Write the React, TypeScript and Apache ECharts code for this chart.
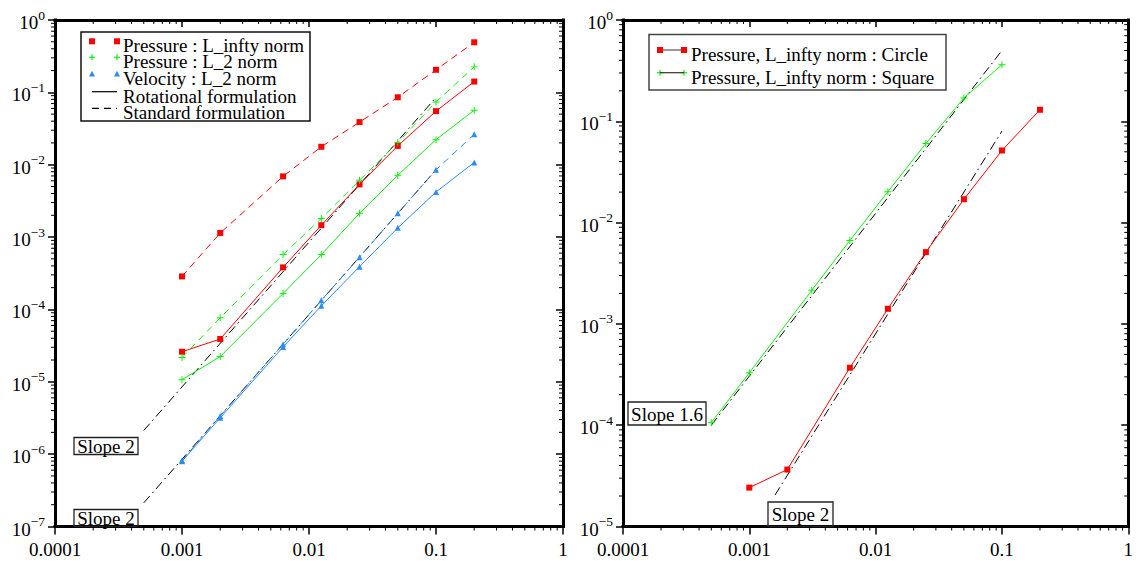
import React, { useEffect, useRef } from "react";
import * as echarts from "echarts";

const FONT = '"Liberation Serif", "Times New Roman", "DejaVu Serif", serif';

// ---------- tick labels ----------
const xTickLabels = ["0.0001", "0.001", "0.01", "0.1", "1"]; // 1e-4 .. 1

// ---------- left panel data ----------
const hLeft = [0.001, 0.002, 0.00625, 0.0125, 0.025, 0.05, 0.1, 0.2];
const pInfStd = [2.86e-4, 1.14e-3, 6.9e-3, 1.77e-2, 3.88e-2, 8.55e-2, 0.205, 0.492];
const pInfRot = [2.6e-5, 3.9e-5, 3.81e-4, 1.46e-3, 5.35e-3, 1.82e-2, 5.5e-2, 0.141];
const p2Std = [2.16e-5, 7.67e-5, 5.73e-4, 1.81e-3, 6.08e-3, 2.02e-2, 7.38e-2, 0.225];
const p2Rot = [1.07e-5, 2.23e-5, 1.66e-4, 5.73e-4, 2.13e-3, 7.15e-3, 2.22e-2, 5.67e-2];
const vStd = [8.15e-7, 3.36e-6, 3.3e-5, 1.34e-4, 5.26e-4, 2.13e-3, 8.5e-3, 2.63e-2];
const vRot = [7.98e-7, 3.18e-6, 3.03e-5, 1.12e-4, 3.9e-4, 1.34e-3, 4.2e-3, 1.076e-2];
const slopeLeftX = [5e-4, 0.1];
const slopeLeftAY = [2.125e-6, 0.085];
const slopeLeftBY = [2.125e-7, 0.0085];

// ---------- right panel data ----------
const hSquare = [5e-4, 0.001, 0.003125, 0.00625, 0.0125, 0.025, 0.05, 0.1];
const pSquare = [1.06e-4, 3.29e-4, 2.15e-3, 6.65e-3, 0.0202, 0.0604, 0.17, 0.361];
const hCircle = [0.001, 0.002, 0.00625, 0.0125, 0.025, 0.05, 0.1, 0.2];
const pCircle = [2.42e-5, 3.65e-5, 3.69e-4, 1.41e-3, 5.11e-3, 0.017, 0.0515, 0.13];
const slope16X = [5e-4, 0.1];
const slope16Y = [1.0e-4, 0.5];
const slope2X = [0.0016, 0.1];
const slope2Y = [2.05e-5, 0.08];

const RED = "#ff0000";
const GREEN = "#10ee10";
const BLUE = "#2b8cf5";
const PLUS = "path://M-1,-0.14H1V0.14H-1Z M-0.14,-1H0.14V1H-0.14Z";

const pairs = (xs: number[], ys: number[]) => xs.map((x, i) => [x, ys[i]]);

function minorValues(fromExp: number, toExp: number) {
  const out: number[] = [];
  for (let e = fromExp; e < toExp; e++) for (let m = 2; m <= 9; m++) out.push(m * Math.pow(10, e));
  return out;
}

function minorData(xFrom: number, xTo: number, yFrom: number, yTo: number, xRef: number, yRef: number) {
  const d: number[][] = [];
  minorValues(xFrom, xTo).forEach((v) => {
    d.push([v, yRef, 0]);
    d.push([v, yRef, 1]);
  });
  minorValues(yFrom, yTo).forEach((v) => {
    d.push([xRef, v, 2]);
    d.push([xRef, v, 3]);
  });
  return d;
}

const renderMinor = (params: any, api: any) => {
  const side = api.value(2);
  const cs = params.coordSys;
  const p = api.coord([api.value(0), api.value(1)]);
  const L = 4;
  let shape: any;
  if (side === 0) shape = { x1: p[0], y1: cs.y + cs.height, x2: p[0], y2: cs.y + cs.height + L };
  else if (side === 1) shape = { x1: p[0], y1: cs.y, x2: p[0], y2: cs.y + L };
  else if (side === 2) shape = { x1: cs.x, y1: p[1], x2: cs.x - L, y2: p[1] };
  else shape = { x1: cs.x + cs.width, y1: p[1], x2: cs.x + cs.width - L, y2: p[1] };
  return { type: "line", shape, style: { stroke: "#000", lineWidth: 1 } };
};

const xLabelFmt = (v: number) => {
  const e = Math.round(Math.log10(v));
  return xTickLabels[e + 4] ?? "";
};
const yLabelFmt = (v: number) => {
  const e = Math.round(Math.log10(v));
  return `{b|10}{s|${e === 0 ? "0" : "\u2212" + -e}}`;
};

const axisLineStyle = { show: true, onZero: false, lineStyle: { color: "#000", width: 3, cap: "square" } };

function xAxes(grid: number) {
  return [
    {
      gridIndex: grid, type: "log", min: 1e-4, max: 1, splitNumber: 4, position: "bottom",
      axisLine: axisLineStyle,
      axisTick: { show: true, inside: false, length: 8, lineStyle: { color: "#000", width: 1.5 } },
      axisLabel: { show: true, formatter: xLabelFmt, fontFamily: FONT, fontSize: 19, color: "#000", margin: 13, showMinLabel: true, showMaxLabel: true },
      splitLine: { show: false }, minorTick: { show: false },
    },
    {
      gridIndex: grid, type: "log", min: 1e-4, max: 1, splitNumber: 4, position: "top",
      axisLine: axisLineStyle,
      axisTick: { show: true, inside: true, length: 7, lineStyle: { color: "#000", width: 1.5 } },
      axisLabel: { show: false }, splitLine: { show: false },
    },
  ];
}

function yAxes(grid: number, minExp: number) {
  const span = -minExp;
  return [
    {
      gridIndex: grid, type: "log", min: Math.pow(10, minExp), max: 1, splitNumber: span, position: "left",
      axisLine: axisLineStyle,
      axisTick: { show: true, inside: false, length: 7, lineStyle: { color: "#000", width: 1.5 } },
      axisLabel: {
        show: true, formatter: yLabelFmt, margin: 10, showMinLabel: true, showMaxLabel: true,
        rich: {
          b: { fontFamily: FONT, fontSize: 19, color: "#000", lineHeight: 24, verticalAlign: "bottom" },
          s: { fontFamily: FONT, fontSize: 13.5, color: "#000", lineHeight: 12, verticalAlign: "top" },
        },
      },
      splitLine: { show: false }, minorTick: { show: false },
    },
    {
      gridIndex: grid, type: "log", min: Math.pow(10, minExp), max: 1, splitNumber: span, position: "right",
      axisLine: axisLineStyle,
      axisTick: { show: true, inside: true, length: 7, lineStyle: { color: "#000", width: 1.5 } },
      axisLabel: { show: false }, splitLine: { show: false },
    },
  ];
}

function lineSeries(name: string, data: number[][], color: string, dashed: boolean, symbol: string, size: number, xi: number, yi: number) {
  return {
    name, type: "line", xAxisIndex: xi, yAxisIndex: yi, data,
    symbol, symbolSize: size, showAllSymbol: true, symbolKeepAspect: true,
    itemStyle: { color },
    lineStyle: { color, width: 1, type: dashed ? [7, 5] : "solid" },
    z: 3,
  };
}

function slopeSeries(name: string, xs: number[], ys: number[], xi: number, yi: number) {
  return {
    name, type: "line", xAxisIndex: xi, yAxisIndex: yi, data: pairs(xs, ys),
    symbol: "none", lineStyle: { color: "#000", width: 1, type: [9, 4, 1.5, 4] }, z: 2,
  };
}

const txt = (text: string, x: number, y: number, align = "left") => ({
  type: "text",
  style: {
    text, x, y, font: `19px ${FONT}`, fill: "#000", lineHeight: 15,
    align, verticalAlign: "middle", textAlign: align, textVerticalAlign: "middle",
  },
  z: 10,
});
const sq = (cx: number, cy: number, color: string) => ({
  type: "rect", shape: { x: cx - 3, y: cy - 3, width: 6, height: 6 }, style: { fill: color }, z: 10,
});
const plus = (cx: number, cy: number, color: string) => ({
  type: "group", z: 10,
  children: [
    { type: "line", shape: { x1: cx - 3, y1: cy, x2: cx + 3, y2: cy }, style: { stroke: color, lineWidth: 1.2 } },
    { type: "line", shape: { x1: cx, y1: cy - 3, x2: cx, y2: cy + 3 }, style: { stroke: color, lineWidth: 1.2 } },
  ],
});
const tri = (cx: number, cy: number, color: string) => ({
  type: "polygon", shape: { points: [[cx, cy - 3.2], [cx + 3, cy + 2.4], [cx - 3, cy + 2.4]] }, style: { fill: color }, z: 10,
});
const seg = (x1: number, x2: number, y: number, color: string, dash?: number[]) => ({
  type: "line", shape: { x1, y1: y, x2, y2: y }, style: { stroke: color, lineWidth: 1.2, lineDash: dash }, z: 10,
});
const box = (x: number, y: number, w: number, h: number, stroke = "#222", lw = 1.3) => ({
  type: "rect", shape: { x, y, width: w, height: h }, style: { fill: "none", stroke, lineWidth: lw }, z: 9,
});

export default function App() {
  const ref = useRef<HTMLDivElement>(null);
  useEffect(() => {
    if (!ref.current) return;
    const chart = echarts.init(ref.current, undefined, { renderer: "svg" });

    const leftLegendRows = [41.3, 57.3, 74, 91.7, 108.3];
    const mx1 = 92, mx2 = 117, tx = 123;
    const graphic: any[] = [
      box(81, 32, 229, 89, "#111", 1.5),
      sq(mx1, leftLegendRows[0], RED), sq(mx2, leftLegendRows[0], RED),
      txt("Pressure : L_infty norm", tx, leftLegendRows[0] + 4.5),
      plus(mx1, leftLegendRows[1], GREEN), plus(mx2, leftLegendRows[1], GREEN),
      txt("Pressure : L_2 norm", tx, leftLegendRows[1] + 4.5),
      tri(mx1, leftLegendRows[2], BLUE), tri(mx2, leftLegendRows[2], BLUE),
      txt("Velocity : L_2 norm", tx, leftLegendRows[2] + 4.5),
      seg(mx1, mx2, leftLegendRows[3], "#000"),
      txt("Rotational formulation", tx, leftLegendRows[3] + 4.5),
      seg(mx1, mx2, leftLegendRows[4], "#000", [7, 5]),
      txt("Standard formulation", tx, leftLegendRows[4] + 4.5),

      box(649, 34.5, 297, 55.5, "#444", 1.5),
      seg(660, 684, 50, "#555"), sq(660, 50, RED), sq(684, 50, RED),
      txt("Pressure, L_infty norm : Circle", 691, 54.5),
      seg(660, 684, 72.7, "#333"), plus(660, 72.7, GREEN), plus(684, 72.7, GREEN),
      txt("Pressure, L_infty norm : Square", 691, 77.2),

      box(74, 437.5, 64, 17), txt("Slope 2", 106, 446.5, "center"),
      box(74, 509.5, 64, 17), txt("Slope 2", 106, 518.5, "center"),
      box(628, 402, 78, 23), txt("Slope 1.6", 667, 414, "center"),
      box(768, 502, 65, 24.5), txt("Slope 2", 800.5, 514.5, "center"),
    ];

    const option: any = {
      animation: false,
      backgroundColor: "#fff",
      grid: [
        { left: 55, top: 20, width: 508, height: 506.5 },
        { left: 623, top: 20, width: 508, height: 506.5 },
      ],
      xAxis: [...xAxes(0), ...xAxes(1)],
      yAxis: [...yAxes(0, -7), ...yAxes(1, -5)],
      graphic,
      series: [
        {
          type: "custom", name: "minorLeft", xAxisIndex: 0, yAxisIndex: 0, clip: false, silent: true,
          renderItem: renderMinor, encode: { x: 0, y: 1 }, dimensions: ["x", "y", "side"],
          data: minorData(-4, 0, -7, 0, 0.01, 0.001), z: 1,
        },
        {
          type: "custom", name: "minorRight", xAxisIndex: 2, yAxisIndex: 2, clip: false, silent: true,
          renderItem: renderMinor, encode: { x: 0, y: 1 }, dimensions: ["x", "y", "side"],
          data: minorData(-4, 0, -5, 0, 0.01, 0.001), z: 1,
        },
        slopeSeries("Slope 2 (a)", slopeLeftX, slopeLeftAY, 0, 0),
        slopeSeries("Slope 2 (b)", slopeLeftX, slopeLeftBY, 0, 0),
        lineSeries("Pressure : L_infty norm (Standard)", pairs(hLeft, pInfStd), RED, true, "rect", 6, 0, 0),
        lineSeries("Pressure : L_infty norm (Rotational)", pairs(hLeft, pInfRot), RED, false, "rect", 6, 0, 0),
        lineSeries("Pressure : L_2 norm (Standard)", pairs(hLeft, p2Std), GREEN, true, PLUS, 7, 0, 0),
        lineSeries("Pressure : L_2 norm (Rotational)", pairs(hLeft, p2Rot), GREEN, false, PLUS, 7, 0, 0),
        lineSeries("Velocity : L_2 norm (Standard)", pairs(hLeft, vStd), BLUE, true, "triangle", 6, 0, 0),
        lineSeries("Velocity : L_2 norm (Rotational)", pairs(hLeft, vRot), BLUE, false, "triangle", 6, 0, 0),

        slopeSeries("Slope 1.6", slope16X, slope16Y, 2, 2),
        slopeSeries("Slope 2 (c)", slope2X, slope2Y, 2, 2),
        lineSeries("Pressure, L_infty norm : Circle", pairs(hCircle, pCircle), RED, false, "rect", 6, 2, 2),
        lineSeries("Pressure, L_infty norm : Square", pairs(hSquare, pSquare), GREEN, false, PLUS, 7, 2, 2),
      ],
    };
    chart.setOption(option);
    return () => chart.dispose();
  }, []);
  return <div ref={ref} style={{ position: "fixed", left: 0, top: 0, width: 1136, height: 561 }} />;
}
